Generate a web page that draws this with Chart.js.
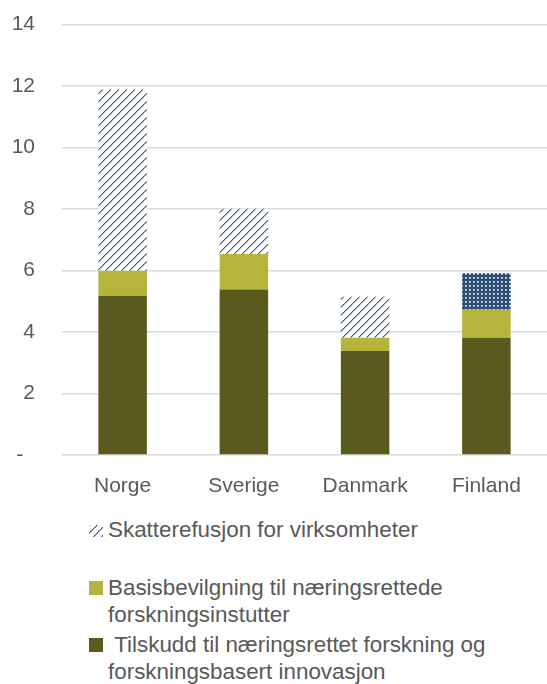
<!DOCTYPE html>
<html>
<head>
<meta charset="utf-8">
<script src="https://cdn.jsdelivr.net/npm/chart.js@4.4.0/dist/chart.umd.min.js"></script>
<style>
body{margin:0;background:#fff;font-family:"Liberation Sans",Arial,sans-serif;color:#595959;}
#wrap{position:relative;width:547px;height:684px;overflow:hidden;}
#chartBox{position:absolute;left:0;top:0;width:547px;height:510px;}
.sw{position:absolute;left:89px;width:14px;height:14px;}
.txt{position:absolute;left:108px;font-size:22.4px;line-height:27px;white-space:nowrap;}
</style>
</head>
<body>
<div id="wrap">
  <div id="chartBox"><canvas id="chart"></canvas></div>
  <canvas class="sw" id="swHatch" width="14" height="12" style="top:525px;height:12px"></canvas>
  <div class="txt" style="top:516px">Skatterefusjon for virksomheter</div>
  <div class="sw" style="top:581px;background:#b5b43d"></div>
  <div class="txt" style="top:574px">Basisbevilgning til næringsrettede<br>forskningsinstutter</div>
  <div class="sw" style="top:638px;background:#5a5a1e"></div>
  <div class="txt" style="top:631px">&nbsp;Tilskudd til næringsrettet forskning og<br>forskningsbasert innovasjon</div>
</div>
<script>
const categories = ['Norge', 'Sverige', 'Danmark', 'Finland'];
const tilskudd = [5.18, 5.38, 3.38, 3.81];
const basis = [0.81, 1.16, 0.43, 0.91];
const skatt = [5.90, 1.47, 1.34, 1.19];
const yTicks = [0, 2, 4, 6, 8, 10, 12, 14];

const dark = '#5a5a1e';
const light = '#b5b43d';
const blue = '#2a4b72';

// "/" hatching, 8px tile
function hatchPattern(ctx){
  const c = document.createElement('canvas');
  c.width = 8; c.height = 8;
  const g = c.getContext('2d');
  g.fillStyle = '#fff';
  g.fillRect(0, 0, 8, 8);
  for(let i=0;i<8;i++){
    g.fillStyle = (i % 2) ? blue : '#4f6b8e';
    g.fillRect(i, 7-i, 1, 1);
    g.fillStyle = '#9fb0c4';
    g.fillRect((i+1)%8, 7-i, 1, 1);
  }
  return ctx.createPattern(c, 'repeat');
}

// dark blue with small light dots (Finland)
function dotPattern(ctx){
  const c = document.createElement('canvas');
  c.width = 4; c.height = 4;
  const g = c.getContext('2d');
  g.fillStyle = '#2d4d74';
  g.fillRect(0, 0, 4, 4);
  g.fillStyle = '#9fb2c8';
  g.fillRect(1, 1, 2, 2);
  g.fillStyle = '#f2f5f8';
  g.fillRect(1, 1, 1, 1);
  return ctx.createPattern(c, 'repeat');
}

const swCtx = document.getElementById('swHatch').getContext('2d');
swCtx.fillStyle = hatchPattern(swCtx);
swCtx.fillRect(0, 0, 14, 12);

const ctx = document.getElementById('chart').getContext('2d');
const hatch = hatchPattern(ctx);
const dots = dotPattern(ctx);

new Chart(ctx, {
  type: 'bar',
  data: {
    labels: categories,
    datasets: [
      {label: 'Tilskudd til næringsrettet forskning og forskningsbasert innovasjon', data: tilskudd, backgroundColor: dark},
      {label: 'Basisbevilgning til næringsrettede forskningsinstutter', data: basis, backgroundColor: light},
      {label: 'Skatterefusjon for virksomheter', data: skatt, backgroundColor: [hatch, hatch, hatch, dots]}
    ]
  },
  options: {
    responsive: true,
    maintainAspectRatio: false,
    animation: false,
    layout: {padding: {left: 10, top: 24.5, right: 0, bottom: 0}},
    datasets: {bar: {categoryPercentage: 1, barPercentage: 0.4, borderWidth: 0}},
    plugins: {legend: {display: false}, tooltip: {enabled: false}},
    scales: {
      x: {
        stacked: true,
        grid: {display: false},
        border: {display: false},
        ticks: {color: '#595959', font: {family: 'Liberation Sans', size: 21}, padding: 11},
        afterFit: s => { s.height = 55; s.paddingLeft = 0; s.paddingRight = 0; }
      },
      y: {
        stacked: true,
        min: 0, max: 14,
        afterBuildTicks: s => { s.ticks = yTicks.map(v => ({value: v})); },
        grid: {color: '#d9d9d9', lineWidth: 1.5, drawTicks: false},
        border: {display: false},
        ticks: {
          color: '#595959',
          font: {family: 'Liberation Sans', size: 21},
          padding: 27,
          callback: v => v === 0 ? '-  ' : v
        },
        afterFit: s => { s.width = 52; s.paddingTop = 0; s.paddingBottom = 0; }
      }
    }
  }
});
</script>
</body>
</html>
